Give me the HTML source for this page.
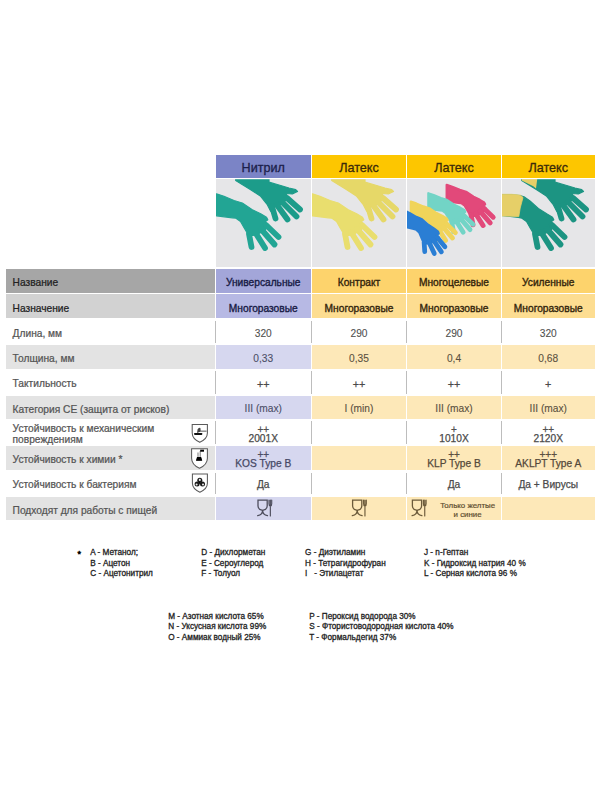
<!DOCTYPE html>
<html><head><meta charset="utf-8"><style>
html,body{margin:0;padding:0;background:#fff;}
body{width:600px;height:800px;position:relative;overflow:hidden;font-family:"Liberation Sans",sans-serif;}
.t{position:absolute;white-space:nowrap;}
.r{position:absolute;}
svg{position:absolute;left:0;top:0;}
</style></head><body>
<div class="r" style="left:216px;top:154.7px;width:94.5px;height:23.5px;background:#7b84c6;"></div>
<div class="t" style="left:216.25px;width:94px;text-align:center;top:161.83px;font-size:12.6px;line-height:12px;color:#1b1e4a;-webkit-text-stroke:0.3px #1b1e4a;">Нитрил</div>
<div class="r" style="left:312px;top:154.7px;width:94px;height:23.5px;background:#fdc600;"></div>
<div class="t" style="left:312.00px;width:94px;text-align:center;top:161.83px;font-size:12.6px;line-height:12px;color:#3b2a0a;-webkit-text-stroke:0.3px #3b2a0a;">Латекс</div>
<div class="r" style="left:407px;top:154.7px;width:94px;height:23.5px;background:#fdc600;"></div>
<div class="t" style="left:407.00px;width:94px;text-align:center;top:161.83px;font-size:12.6px;line-height:12px;color:#3b2a0a;-webkit-text-stroke:0.3px #3b2a0a;">Латекс</div>
<div class="r" style="left:502px;top:154.7px;width:92.5px;height:23.5px;background:#fdc600;"></div>
<div class="t" style="left:501.25px;width:94px;text-align:center;top:161.83px;font-size:12.6px;line-height:12px;color:#3b2a0a;-webkit-text-stroke:0.3px #3b2a0a;">Латекс</div>
<div class="r" style="left:216px;top:179.2px;width:94.5px;height:87.60000000000002px;background:#e6e6e8;"></div>
<div class="r" style="left:312px;top:179.2px;width:94px;height:87.60000000000002px;background:#e6e6e8;"></div>
<div class="r" style="left:407px;top:179.2px;width:94px;height:87.60000000000002px;background:#e6e6e8;"></div>
<div class="r" style="left:502px;top:179.2px;width:92.5px;height:87.60000000000002px;background:#e6e6e8;"></div>
<svg width="600" height="800" viewBox="0 0 600 800" style="position:absolute;left:0;top:0">
<defs>
<clipPath id="c0"><rect x="216" y="179.2" width="94.5" height="87.60000000000002"/></clipPath>
<clipPath id="c1"><rect x="312" y="179.2" width="94" height="87.60000000000002"/></clipPath>
<clipPath id="c2"><rect x="407" y="179.2" width="94" height="87.60000000000002"/></clipPath>
<clipPath id="c3"><rect x="502" y="179.2" width="92.5" height="87.60000000000002"/></clipPath>
<filter id="bl" x="-10%" y="-10%" width="120%" height="120%"><feGaussianBlur stdDeviation="0.45"/></filter>
</defs>
<g clip-path="url(#c0)"><g transform="translate(214,178)" filter="url(#bl)">
<polygon points="21.7,-1 55,-1 55,4.2 66.7,7.5 75,10 81.7,11.7 83.5,13.5 78.3,16 72,15.5 74,20 69,25 64,28 58,29 56.7,33.3 53.3,26.7 46.7,18.3 36.7,11.7 21.7,2.5" fill="#1c9c8a" stroke="#1c9c8a" stroke-width="1.2" stroke-linejoin="round"/><line x1="73" y1="20" x2="86" y2="31.5" stroke="#1c9c8a" stroke-width="5.8" stroke-linecap="round"/><line x1="68" y1="24" x2="82.5" y2="38.5" stroke="#1c9c8a" stroke-width="5.8" stroke-linecap="round"/><line x1="63" y1="27" x2="73.5" y2="41.5" stroke="#1c9c8a" stroke-width="5.8" stroke-linecap="round"/><line x1="58" y1="28.5" x2="61.5" y2="40.5" stroke="#1c9c8a" stroke-width="5.8" stroke-linecap="round"/>
<polygon points="2.5,15.8 10,18.3 20,22.5 28.3,25 38.3,31.7 46.7,35.8 52.5,39.2 53.8,41.7 51,44 55,47.5 50,53 42,57 35,58 30.8,51 26.5,43.5 22,40.2 18.3,39.8 2.5,37.8" fill="#22a594" stroke="#22a594" stroke-width="1.2" stroke-linejoin="round"/><line x1="52" y1="47" x2="64.5" y2="59" stroke="#22a594" stroke-width="5.8" stroke-linecap="round"/><line x1="47" y1="51" x2="60.5" y2="66.5" stroke="#22a594" stroke-width="5.8" stroke-linecap="round"/><line x1="41" y1="54" x2="51" y2="70" stroke="#22a594" stroke-width="5.8" stroke-linecap="round"/><line x1="35" y1="56" x2="37.5" y2="69" stroke="#22a594" stroke-width="5.8" stroke-linecap="round"/>
</g></g>
<g clip-path="url(#c1)"><g transform="translate(310,178)" filter="url(#bl)">
<polygon points="21.7,-1 55,-1 55,4.2 66.7,7.5 75,10 81.7,11.7 83.5,13.5 78.3,16 72,15.5 74,20 69,25 64,28 58,29 56.7,33.3 53.3,26.7 46.7,18.3 36.7,11.7 21.7,2.5" fill="#e6d868" stroke="#e6d868" stroke-width="1.2" stroke-linejoin="round"/><line x1="73" y1="20" x2="86" y2="31.5" stroke="#e6d868" stroke-width="5.8" stroke-linecap="round"/><line x1="68" y1="24" x2="82.5" y2="38.5" stroke="#e6d868" stroke-width="5.8" stroke-linecap="round"/><line x1="63" y1="27" x2="73.5" y2="41.5" stroke="#e6d868" stroke-width="5.8" stroke-linecap="round"/><line x1="58" y1="28.5" x2="61.5" y2="40.5" stroke="#e6d868" stroke-width="5.8" stroke-linecap="round"/>
<polygon points="2.5,15.8 10,18.3 20,22.5 28.3,25 38.3,31.7 46.7,35.8 52.5,39.2 53.8,41.7 51,44 55,47.5 50,53 42,57 35,58 30.8,51 26.5,43.5 22,40.2 18.3,39.8 2.5,37.8" fill="#e9de6e" stroke="#e9de6e" stroke-width="1.2" stroke-linejoin="round"/><line x1="52" y1="47" x2="64.5" y2="59" stroke="#e9de6e" stroke-width="5.8" stroke-linecap="round"/><line x1="47" y1="51" x2="60.5" y2="66.5" stroke="#e9de6e" stroke-width="5.8" stroke-linecap="round"/><line x1="41" y1="54" x2="51" y2="70" stroke="#e9de6e" stroke-width="5.8" stroke-linecap="round"/><line x1="35" y1="56" x2="37.5" y2="69" stroke="#e9de6e" stroke-width="5.8" stroke-linecap="round"/>
</g></g>
<g clip-path="url(#c2)"><g transform="translate(405,178)" filter="url(#bl)">
<g transform="translate(39.8,-5) rotate(0) scale(0.75)">
<polygon points="2.5,15.8 10,18.3 20,22.5 28.3,25 38.3,31.7 46.7,35.8 52.5,39.2 53.8,41.7 51,44 55,47.5 50,53 42,57 35,58 30.8,51 26.5,43.5 22,40.2 18.3,39.8 2.5,37.8" fill="#e2487a" stroke="#e2487a" stroke-width="3.0" stroke-linejoin="round"/><line x1="52" y1="47" x2="64.5" y2="59" stroke="#e2487a" stroke-width="6.6" stroke-linecap="round"/><line x1="47" y1="51" x2="60.5" y2="66.5" stroke="#e2487a" stroke-width="6.6" stroke-linecap="round"/><line x1="41" y1="54" x2="51" y2="70" stroke="#e2487a" stroke-width="6.6" stroke-linecap="round"/><line x1="35" y1="56" x2="37.5" y2="69" stroke="#e2487a" stroke-width="6.6" stroke-linecap="round"/>
</g>
<g transform="translate(21.5,3.8) rotate(0) scale(0.72)">
<polygon points="2.5,15.8 10,18.3 20,22.5 28.3,25 38.3,31.7 46.7,35.8 52.5,39.2 53.8,41.7 51,44 55,47.5 50,53 42,57 35,58 30.8,51 26.5,43.5 22,40.2 18.3,39.8 2.5,37.8" fill="#72d4c6" stroke="#72d4c6" stroke-width="3.0" stroke-linejoin="round"/><line x1="52" y1="47" x2="64.5" y2="59" stroke="#72d4c6" stroke-width="6.6" stroke-linecap="round"/><line x1="47" y1="51" x2="60.5" y2="66.5" stroke="#72d4c6" stroke-width="6.6" stroke-linecap="round"/><line x1="41" y1="54" x2="51" y2="70" stroke="#72d4c6" stroke-width="6.6" stroke-linecap="round"/><line x1="35" y1="56" x2="37.5" y2="69" stroke="#72d4c6" stroke-width="6.6" stroke-linecap="round"/>
</g>
<g transform="translate(4,12.2) rotate(0) scale(0.72)">
<polygon points="2.5,15.8 10,18.3 20,22.5 28.3,25 38.3,31.7 46.7,35.8 52.5,39.2 53.8,41.7 51,44 55,47.5 50,53 42,57 35,58 30.8,51 26.5,43.5 22,40.2 18.3,39.8 2.5,37.8" fill="#f0d45a" stroke="#f0d45a" stroke-width="3.0" stroke-linejoin="round"/><line x1="52" y1="47" x2="64.5" y2="59" stroke="#f0d45a" stroke-width="6.6" stroke-linecap="round"/><line x1="47" y1="51" x2="60.5" y2="66.5" stroke="#f0d45a" stroke-width="6.6" stroke-linecap="round"/><line x1="41" y1="54" x2="51" y2="70" stroke="#f0d45a" stroke-width="6.6" stroke-linecap="round"/><line x1="35" y1="56" x2="37.5" y2="69" stroke="#f0d45a" stroke-width="6.6" stroke-linecap="round"/>
</g>
<g transform="translate(-1,21) rotate(7) scale(0.72)">
<polygon points="2.5,15.8 10,18.3 20,22.5 28.3,25 38.3,31.7 46.7,35.8 52.5,39.2 53.8,41.7 51,44 55,47.5 50,53 42,57 35,58 30.8,51 26.5,43.5 22,40.2 18.3,39.8 2.5,37.8" fill="#2a7ed4" stroke="#2a7ed4" stroke-width="3.0" stroke-linejoin="round"/><line x1="52" y1="47" x2="64.5" y2="59" stroke="#2a7ed4" stroke-width="6.6" stroke-linecap="round"/><line x1="47" y1="51" x2="60.5" y2="66.5" stroke="#2a7ed4" stroke-width="6.6" stroke-linecap="round"/><line x1="41" y1="54" x2="51" y2="70" stroke="#2a7ed4" stroke-width="6.6" stroke-linecap="round"/><line x1="35" y1="56" x2="37.5" y2="69" stroke="#2a7ed4" stroke-width="6.6" stroke-linecap="round"/>
</g>
</g></g>
<g clip-path="url(#c3)"><g transform="translate(500,178)" filter="url(#bl)">
<polygon points="21.7,-1 55,-1 55,4.2 66.7,7.5 75,10 81.7,11.7 83.5,13.5 78.3,16 72,15.5 74,20 69,25 64,28 58,29 56.7,33.3 53.3,26.7 46.7,18.3 36.7,11.7 21.7,2.5" fill="#1c9482" stroke="#1c9482" stroke-width="1.2" stroke-linejoin="round"/><line x1="73" y1="20" x2="86" y2="31.5" stroke="#1c9482" stroke-width="5.8" stroke-linecap="round"/><line x1="68" y1="24" x2="82.5" y2="38.5" stroke="#1c9482" stroke-width="5.8" stroke-linecap="round"/><line x1="63" y1="27" x2="73.5" y2="41.5" stroke="#1c9482" stroke-width="5.8" stroke-linecap="round"/><line x1="58" y1="28.5" x2="61.5" y2="40.5" stroke="#1c9482" stroke-width="5.8" stroke-linecap="round"/>
<polygon points="21.7,-1 37.5,-1 36,10.5 33.3,8.3 21.7,2.5" fill="#e6cf68"/>
<polygon points="1,16.8 12,16.8 20,17.5 24,18.8 30,23 38.3,30.5 46.7,35.8 52.5,39.2 53.8,41.7 51,44 55,47.5 50,53 42,57 35,58 30.8,51 26.5,43.5 22,40.2 18.3,39.3 1,37.5" fill="#1c9482" stroke="#1c9482" stroke-width="1.2" stroke-linejoin="round"/><line x1="52" y1="47" x2="64.5" y2="59" stroke="#1c9482" stroke-width="5.8" stroke-linecap="round"/><line x1="47" y1="51" x2="60.5" y2="66.5" stroke="#1c9482" stroke-width="5.8" stroke-linecap="round"/><line x1="41" y1="54" x2="51" y2="70" stroke="#1c9482" stroke-width="5.8" stroke-linecap="round"/><line x1="35" y1="56" x2="37.5" y2="69" stroke="#1c9482" stroke-width="5.8" stroke-linecap="round"/>
<polygon points="0.5,16.3 12,16.3 20.5,17.2 23,19.5 20.2,30 18.8,38.6 0.5,37.9" fill="#e6cf68" stroke="#e6cf68" stroke-width="0.8" stroke-linejoin="round"/>
</g></g>
</svg>
<div class="r" style="left:6px;top:268.5px;width:208.5px;height:24.5px;background:#a6a6a6;"></div>
<div class="r" style="left:216px;top:268.5px;width:94.5px;height:24.5px;background:#a3a6d9;"></div>
<div class="r" style="left:312px;top:268.5px;width:94px;height:24.5px;background:#fdd36c;"></div>
<div class="r" style="left:407px;top:268.5px;width:94px;height:24.5px;background:#fdd36c;"></div>
<div class="r" style="left:502px;top:268.5px;width:92.5px;height:24.5px;background:#fdd36c;"></div>
<div class="r" style="left:6px;top:294.3px;width:208.5px;height:23.899999999999977px;background:#d2d2d2;"></div>
<div class="r" style="left:216px;top:294.3px;width:94.5px;height:23.899999999999977px;background:#b7b9e4;"></div>
<div class="r" style="left:312px;top:294.3px;width:94px;height:23.899999999999977px;background:#fddd91;"></div>
<div class="r" style="left:407px;top:294.3px;width:94px;height:23.899999999999977px;background:#fddd91;"></div>
<div class="r" style="left:502px;top:294.3px;width:92.5px;height:23.899999999999977px;background:#fddd91;"></div>
<div class="r" style="left:214.7px;top:320.5px;width:1.0px;height:22.399999999999977px;background:#bdbdbd;"></div>
<div class="r" style="left:310.8px;top:320.5px;width:1.0px;height:22.399999999999977px;background:#bdbdbd;"></div>
<div class="r" style="left:405.8px;top:320.5px;width:1.0px;height:22.399999999999977px;background:#bdbdbd;"></div>
<div class="r" style="left:500.9px;top:320.5px;width:1.0px;height:22.399999999999977px;background:#bdbdbd;"></div>
<div class="r" style="left:6px;top:345.2px;width:208.5px;height:23.600000000000023px;background:#e3e3e3;"></div>
<div class="r" style="left:216px;top:345.2px;width:94.5px;height:23.600000000000023px;background:#d6d7ef;"></div>
<div class="r" style="left:312px;top:345.2px;width:94px;height:23.600000000000023px;background:#fde8b8;"></div>
<div class="r" style="left:407px;top:345.2px;width:94px;height:23.600000000000023px;background:#fde8b8;"></div>
<div class="r" style="left:502px;top:345.2px;width:92.5px;height:23.600000000000023px;background:#fde8b8;"></div>
<div class="r" style="left:214.7px;top:371.1px;width:1.0px;height:22.799999999999955px;background:#bdbdbd;"></div>
<div class="r" style="left:310.8px;top:371.1px;width:1.0px;height:22.799999999999955px;background:#bdbdbd;"></div>
<div class="r" style="left:405.8px;top:371.1px;width:1.0px;height:22.799999999999955px;background:#bdbdbd;"></div>
<div class="r" style="left:500.9px;top:371.1px;width:1.0px;height:22.799999999999955px;background:#bdbdbd;"></div>
<div class="r" style="left:6px;top:396.2px;width:208.5px;height:22.600000000000023px;background:#e3e3e3;"></div>
<div class="r" style="left:216px;top:396.2px;width:94.5px;height:22.600000000000023px;background:#d6d7ef;"></div>
<div class="r" style="left:312px;top:396.2px;width:94px;height:22.600000000000023px;background:#fde8b8;"></div>
<div class="r" style="left:407px;top:396.2px;width:94px;height:22.600000000000023px;background:#fde8b8;"></div>
<div class="r" style="left:502px;top:396.2px;width:92.5px;height:22.600000000000023px;background:#fde8b8;"></div>
<div class="r" style="left:214.7px;top:421.1px;width:1.0px;height:22.599999999999966px;background:#bdbdbd;"></div>
<div class="r" style="left:310.8px;top:421.1px;width:1.0px;height:22.599999999999966px;background:#bdbdbd;"></div>
<div class="r" style="left:405.8px;top:421.1px;width:1.0px;height:22.599999999999966px;background:#bdbdbd;"></div>
<div class="r" style="left:500.9px;top:421.1px;width:1.0px;height:22.599999999999966px;background:#bdbdbd;"></div>
<div class="r" style="left:6px;top:446.1px;width:208.5px;height:24.19999999999999px;background:#e3e3e3;"></div>
<div class="r" style="left:216px;top:446.1px;width:94.5px;height:24.19999999999999px;background:#d6d7ef;"></div>
<div class="r" style="left:312px;top:446.1px;width:94px;height:24.19999999999999px;background:#fde8b8;"></div>
<div class="r" style="left:407px;top:446.1px;width:94px;height:24.19999999999999px;background:#fde8b8;"></div>
<div class="r" style="left:502px;top:446.1px;width:92.5px;height:24.19999999999999px;background:#fde8b8;"></div>
<div class="r" style="left:214.7px;top:472.6px;width:1.0px;height:21.799999999999955px;background:#bdbdbd;"></div>
<div class="r" style="left:310.8px;top:472.6px;width:1.0px;height:21.799999999999955px;background:#bdbdbd;"></div>
<div class="r" style="left:405.8px;top:472.6px;width:1.0px;height:21.799999999999955px;background:#bdbdbd;"></div>
<div class="r" style="left:500.9px;top:472.6px;width:1.0px;height:21.799999999999955px;background:#bdbdbd;"></div>
<div class="r" style="left:6px;top:496.7px;width:208.5px;height:23.30000000000001px;background:#e3e3e3;"></div>
<div class="r" style="left:216px;top:496.7px;width:94.5px;height:23.30000000000001px;background:#d6d7ef;"></div>
<div class="r" style="left:312px;top:496.7px;width:94px;height:23.30000000000001px;background:#fde8b8;"></div>
<div class="r" style="left:407px;top:496.7px;width:94px;height:23.30000000000001px;background:#fde8b8;"></div>
<div class="r" style="left:502px;top:496.7px;width:92.5px;height:23.30000000000001px;background:#fde8b8;"></div>
<div class="t" style="left:12.60px;top:276.67px;font-size:10.2px;line-height:12px;color:#222;-webkit-text-stroke:0.24px #222;">Название</div>
<div class="t" style="left:12.60px;top:302.67px;font-size:10.2px;line-height:12px;color:#222;-webkit-text-stroke:0.24px #222;">Назначение</div>
<div class="t" style="left:12.60px;top:327.97px;font-size:10.2px;line-height:12px;color:#555;-webkit-text-stroke:0.24px #555;">Длина, мм</div>
<div class="t" style="left:12.60px;top:352.97px;font-size:10.2px;line-height:12px;color:#555;-webkit-text-stroke:0.24px #555;">Толщина, мм</div>
<div class="t" style="left:12.60px;top:377.97px;font-size:10.2px;line-height:12px;color:#555;-webkit-text-stroke:0.24px #555;">Тактильность</div>
<div class="t" style="left:12.60px;top:403.67px;font-size:10.2px;line-height:12px;color:#555;-webkit-text-stroke:0.24px #555;">Категория CE (защита от рисков)</div>
<div class="t" style="left:12.60px;top:422.97px;font-size:10.2px;line-height:12px;color:#555;-webkit-text-stroke:0.24px #555;">Устойчивость к механическим</div>
<div class="t" style="left:12.60px;top:433.67px;font-size:10.2px;line-height:12px;color:#555;-webkit-text-stroke:0.24px #555;">повреждениям</div>
<div class="t" style="left:12.60px;top:453.67px;font-size:10.2px;line-height:12px;color:#555;-webkit-text-stroke:0.24px #555;">Устойчивость к химии *</div>
<div class="t" style="left:12.60px;top:479.17px;font-size:10.2px;line-height:12px;color:#555;-webkit-text-stroke:0.24px #555;">Устойчивость к бактериям</div>
<div class="t" style="left:12.60px;top:504.67px;font-size:10.2px;line-height:12px;color:#555;-webkit-text-stroke:0.24px #555;">Подходят для работы с пищей</div>
<div class="t" style="left:216.25px;width:94px;text-align:center;top:277.27px;font-size:10.2px;line-height:12px;color:#181b45;-webkit-text-stroke:0.35px #181b45;">Универсальные</div>
<div class="t" style="left:216.25px;width:94px;text-align:center;top:302.67px;font-size:10.2px;line-height:12px;color:#181b45;-webkit-text-stroke:0.35px #181b45;">Многоразовые</div>
<div class="t" style="left:312.00px;width:94px;text-align:center;top:277.27px;font-size:10.2px;line-height:12px;color:#33250c;-webkit-text-stroke:0.35px #33250c;">Контракт</div>
<div class="t" style="left:312.00px;width:94px;text-align:center;top:302.67px;font-size:10.2px;line-height:12px;color:#33250c;-webkit-text-stroke:0.35px #33250c;">Многоразовые</div>
<div class="t" style="left:407.00px;width:94px;text-align:center;top:277.27px;font-size:10.2px;line-height:12px;color:#33250c;-webkit-text-stroke:0.35px #33250c;">Многоцелевые</div>
<div class="t" style="left:407.00px;width:94px;text-align:center;top:302.67px;font-size:10.2px;line-height:12px;color:#33250c;-webkit-text-stroke:0.35px #33250c;">Многоразовые</div>
<div class="t" style="left:501.25px;width:94px;text-align:center;top:277.27px;font-size:10.2px;line-height:12px;color:#33250c;-webkit-text-stroke:0.35px #33250c;">Усиленные</div>
<div class="t" style="left:501.25px;width:94px;text-align:center;top:302.67px;font-size:10.2px;line-height:12px;color:#33250c;-webkit-text-stroke:0.35px #33250c;">Многоразовые</div>
<div class="t" style="left:216.25px;width:94px;text-align:center;top:328.17px;font-size:10.2px;line-height:12px;color:#505050;-webkit-text-stroke:0.1px #505050;">320</div>
<div class="t" style="left:312.00px;width:94px;text-align:center;top:328.17px;font-size:10.2px;line-height:12px;color:#505050;-webkit-text-stroke:0.1px #505050;">290</div>
<div class="t" style="left:407.00px;width:94px;text-align:center;top:328.17px;font-size:10.2px;line-height:12px;color:#505050;-webkit-text-stroke:0.1px #505050;">290</div>
<div class="t" style="left:501.25px;width:94px;text-align:center;top:328.17px;font-size:10.2px;line-height:12px;color:#505050;-webkit-text-stroke:0.1px #505050;">320</div>
<div class="t" style="left:216.25px;width:94px;text-align:center;top:353.47px;font-size:10.2px;line-height:12px;color:#4c4e66;-webkit-text-stroke:0.1px #4c4e66;">0,33</div>
<div class="t" style="left:312.00px;width:94px;text-align:center;top:353.47px;font-size:10.2px;line-height:12px;color:#5a5040;-webkit-text-stroke:0.1px #5a5040;">0,35</div>
<div class="t" style="left:407.00px;width:94px;text-align:center;top:353.47px;font-size:10.2px;line-height:12px;color:#5a5040;-webkit-text-stroke:0.1px #5a5040;">0,4</div>
<div class="t" style="left:501.25px;width:94px;text-align:center;top:353.47px;font-size:10.2px;line-height:12px;color:#5a5040;-webkit-text-stroke:0.1px #5a5040;">0,68</div>
<div class="t" style="left:216.25px;width:94px;text-align:center;top:377.66px;font-size:10.8px;line-height:12px;color:#4a4a4a;-webkit-text-stroke:0.25px #4a4a4a;">++</div>
<div class="t" style="left:312.00px;width:94px;text-align:center;top:377.66px;font-size:10.8px;line-height:12px;color:#4a4a4a;-webkit-text-stroke:0.25px #4a4a4a;">++</div>
<div class="t" style="left:407.00px;width:94px;text-align:center;top:377.66px;font-size:10.8px;line-height:12px;color:#4a4a4a;-webkit-text-stroke:0.25px #4a4a4a;">++</div>
<div class="t" style="left:501.25px;width:94px;text-align:center;top:377.66px;font-size:10.8px;line-height:12px;color:#4a4a4a;-webkit-text-stroke:0.25px #4a4a4a;">+</div>
<div class="t" style="left:216.25px;width:94px;text-align:center;top:403.17px;font-size:10.2px;line-height:12px;color:#4c4e66;-webkit-text-stroke:0.1px #4c4e66;">III (max)</div>
<div class="t" style="left:312.00px;width:94px;text-align:center;top:403.17px;font-size:10.2px;line-height:12px;color:#5a5040;-webkit-text-stroke:0.1px #5a5040;">I (min)</div>
<div class="t" style="left:407.00px;width:94px;text-align:center;top:403.17px;font-size:10.2px;line-height:12px;color:#5a5040;-webkit-text-stroke:0.1px #5a5040;">III (max)</div>
<div class="t" style="left:501.25px;width:94px;text-align:center;top:403.17px;font-size:10.2px;line-height:12px;color:#5a5040;-webkit-text-stroke:0.1px #5a5040;">III (max)</div>
<div class="t" style="left:216.25px;width:94px;text-align:center;top:424.24px;font-size:10px;line-height:12px;color:#505050;-webkit-text-stroke:0.25px #505050;">++</div>
<div class="t" style="left:312.00px;width:94px;text-align:center;top:424.24px;font-size:10px;line-height:12px;color:#505050;-webkit-text-stroke:0.25px #505050;"></div>
<div class="t" style="left:407.00px;width:94px;text-align:center;top:424.24px;font-size:10px;line-height:12px;color:#505050;-webkit-text-stroke:0.25px #505050;">+</div>
<div class="t" style="left:501.25px;width:94px;text-align:center;top:424.24px;font-size:10px;line-height:12px;color:#505050;-webkit-text-stroke:0.25px #505050;">++</div>
<div class="t" style="left:216.25px;width:94px;text-align:center;top:432.77px;font-size:10.2px;line-height:12px;color:#4a4a4a;-webkit-text-stroke:0.25px #4a4a4a;">2001X</div>
<div class="t" style="left:312.00px;width:94px;text-align:center;top:432.77px;font-size:10.2px;line-height:12px;color:#4a4a4a;-webkit-text-stroke:0.25px #4a4a4a;"></div>
<div class="t" style="left:407.00px;width:94px;text-align:center;top:432.77px;font-size:10.2px;line-height:12px;color:#4a4a4a;-webkit-text-stroke:0.25px #4a4a4a;">1010X</div>
<div class="t" style="left:501.25px;width:94px;text-align:center;top:432.77px;font-size:10.2px;line-height:12px;color:#4a4a4a;-webkit-text-stroke:0.25px #4a4a4a;">2120X</div>
<div class="t" style="left:216.25px;width:94px;text-align:center;top:448.74px;font-size:10px;line-height:12px;color:#4c4e66;-webkit-text-stroke:0.25px #4c4e66;">++</div>
<div class="t" style="left:312.00px;width:94px;text-align:center;top:448.74px;font-size:10px;line-height:12px;color:#5a5040;-webkit-text-stroke:0.25px #5a5040;"></div>
<div class="t" style="left:407.00px;width:94px;text-align:center;top:448.74px;font-size:10px;line-height:12px;color:#5a5040;-webkit-text-stroke:0.25px #5a5040;">++</div>
<div class="t" style="left:501.25px;width:94px;text-align:center;top:448.74px;font-size:10px;line-height:12px;color:#5a5040;-webkit-text-stroke:0.25px #5a5040;">+++</div>
<div class="t" style="left:216.25px;width:94px;text-align:center;top:458.47px;font-size:10.2px;line-height:12px;color:#474966;-webkit-text-stroke:0.25px #474966;">KOS Type B</div>
<div class="t" style="left:312.00px;width:94px;text-align:center;top:458.47px;font-size:10.2px;line-height:12px;color:#55493a;-webkit-text-stroke:0.25px #55493a;"></div>
<div class="t" style="left:407.00px;width:94px;text-align:center;top:458.47px;font-size:10.2px;line-height:12px;color:#55493a;-webkit-text-stroke:0.25px #55493a;">KLP Type B</div>
<div class="t" style="left:501.25px;width:94px;text-align:center;top:458.47px;font-size:10.2px;line-height:12px;color:#55493a;-webkit-text-stroke:0.25px #55493a;">AKLPT Type A</div>
<div class="t" style="left:216.25px;width:94px;text-align:center;top:478.67px;font-size:10.2px;line-height:12px;color:#4a4a4a;-webkit-text-stroke:0.25px #4a4a4a;">Да</div>
<div class="t" style="left:312.00px;width:94px;text-align:center;top:478.67px;font-size:10.2px;line-height:12px;color:#4a4a4a;-webkit-text-stroke:0.25px #4a4a4a;"></div>
<div class="t" style="left:407.00px;width:94px;text-align:center;top:478.67px;font-size:10.2px;line-height:12px;color:#4a4a4a;-webkit-text-stroke:0.25px #4a4a4a;">Да</div>
<div class="t" style="left:501.25px;width:94px;text-align:center;top:478.67px;font-size:10.2px;line-height:12px;color:#4a4a4a;-webkit-text-stroke:0.25px #4a4a4a;">Да + Вирусы</div>
<svg width="600" height="800" viewBox="0 0 600 800" style="position:absolute;left:0;top:0">
<path d="M192.2,424.4 H207.4 V433.0 Q207.4,438.8 199.8,442.3 Q192.2,438.8 192.2,433.0 Z" fill="#fff" stroke="#5a5a5a" stroke-width="1.05"/>
<rect x="194.0" y="432.9" width="8.4" height="2.0" rx="0.8" fill="#111"/>
<path d="M197.0,433 L197.6,429.6 Q198.6,427.2 200.4,428.0 L200.8,431.4 Z" fill="#444"/>
<rect x="200.4" y="430.6" width="6.2" height="1.1" fill="#666"/>
<path d="M191.6,448.7 H207.4 V458.2 Q207.4,464.7 199.5,468.2 Q191.6,464.7 191.6,458.2 Z" fill="#fff" stroke="#5a5a5a" stroke-width="1.05"/>
<path d="M198.0,452.5 V456.8 L196.6,460.3 H201.6 L200.2,456.8 V451" fill="none" stroke="#444" stroke-width="0.7"/>
<path d="M197.0,457.0 H201.2 L202.2,460.8 H196.0 Z" fill="#000"/>
<rect x="200.2" y="449.7" width="3.8" height="2.0" fill="#000"/>
<path d="M192.4,473.9 H207.4 V483.2 Q207.4,488.7 199.9,492.2 Q192.4,488.7 192.4,483.2 Z" fill="#fff" stroke="#5a5a5a" stroke-width="1.05"/>
<circle cx="199.8" cy="480.3" r="2.5" fill="#1a1a1a"/>
<circle cx="197.1" cy="484.1" r="2.5" fill="#1a1a1a"/>
<circle cx="202.5" cy="484.1" r="2.5" fill="#1a1a1a"/>
<circle cx="199.8" cy="479.9" r="1.05" fill="#e8e8e8"/>
<circle cx="196.6" cy="484.5" r="1.05" fill="#e8e8e8"/>
<circle cx="203.0" cy="484.5" r="1.05" fill="#e8e8e8"/>
<circle cx="199.8" cy="482.9" r="0.9" fill="#000"/>
</svg>
<svg width="600" height="800" viewBox="0 0 600 800" style="position:absolute;left:0;top:0">
<g transform="translate(257.4,499.4)" fill="none" stroke="#4d4d5c" stroke-width="1.3" stroke-linecap="round"><path d="M0.6,0.7 H9.8 V6.6 Q9.8,10.2 5.2,10.9 Q0.6,10.2 0.6,6.6 Z"/><path d="M5.2,10.9 C5.2,14.5 3.2,15.8 0.3,16.3 M5.2,10.9 C5.2,14.5 7.2,15.8 10.1,16.3"/><path d="M11.6,0.7 V4.4 Q11.6,6.6 12.95,6.9 Q14.3,6.6 14.3,4.4 V0.7 M12.95,0.7 V16.5" stroke-width="1.15"/></g>
<g transform="translate(352.0,499.4)" fill="none" stroke="#6b5a3a" stroke-width="1.3" stroke-linecap="round"><path d="M0.6,0.7 H9.8 V6.6 Q9.8,10.2 5.2,10.9 Q0.6,10.2 0.6,6.6 Z"/><path d="M5.2,10.9 C5.2,14.5 3.2,15.8 0.3,16.3 M5.2,10.9 C5.2,14.5 7.2,15.8 10.1,16.3"/><path d="M11.6,0.7 V4.4 Q11.6,6.6 12.95,6.9 Q14.3,6.6 14.3,4.4 V0.7 M12.95,0.7 V16.5" stroke-width="1.15"/></g>
<g transform="translate(411.8,499.4)" fill="none" stroke="#6b5a3a" stroke-width="1.3" stroke-linecap="round"><path d="M0.6,0.7 H9.8 V6.6 Q9.8,10.2 5.2,10.9 Q0.6,10.2 0.6,6.6 Z"/><path d="M5.2,10.9 C5.2,14.5 3.2,15.8 0.3,16.3 M5.2,10.9 C5.2,14.5 7.2,15.8 10.1,16.3"/><path d="M11.6,0.7 V4.4 Q11.6,6.6 12.95,6.9 Q14.3,6.6 14.3,4.4 V0.7 M12.95,0.7 V16.5" stroke-width="1.15"/></g>
</svg>
<div class="t" style="left:427.60px;width:80px;text-align:center;top:500.46px;font-size:7.9px;line-height:12px;color:#5e4e30;-webkit-text-stroke:0.2px #5e4e30;">Только желтые</div>
<div class="t" style="left:427.60px;width:80px;text-align:center;top:509.26px;font-size:7.9px;line-height:12px;color:#5e4e30;-webkit-text-stroke:0.2px #5e4e30;">и синие</div>
<div class="t" style="left:77.40px;top:548.08px;font-size:9px;line-height:12px;color:#000;-webkit-text-stroke:0.5px #000;">*</div>
<div class="t" style="left:90.30px;top:547.36px;font-size:8.2px;line-height:12px;color:#1e1e1e;-webkit-text-stroke:0.3px #1e1e1e;">A - Метанол;</div>
<div class="t" style="left:90.30px;top:557.56px;font-size:8.2px;line-height:12px;color:#1e1e1e;-webkit-text-stroke:0.3px #1e1e1e;">B - Ацетон</div>
<div class="t" style="left:90.30px;top:567.76px;font-size:8.2px;line-height:12px;color:#1e1e1e;-webkit-text-stroke:0.3px #1e1e1e;">C - Ацетонитрил</div>
<div class="t" style="left:201.20px;top:547.36px;font-size:8.2px;line-height:12px;color:#1e1e1e;-webkit-text-stroke:0.3px #1e1e1e;">D - Дихлорметан</div>
<div class="t" style="left:201.20px;top:557.56px;font-size:8.2px;line-height:12px;color:#1e1e1e;-webkit-text-stroke:0.3px #1e1e1e;">E - Сероуглерод</div>
<div class="t" style="left:201.20px;top:567.76px;font-size:8.2px;line-height:12px;color:#1e1e1e;-webkit-text-stroke:0.3px #1e1e1e;">F - Толуол</div>
<div class="t" style="left:305.10px;top:547.36px;font-size:8.2px;line-height:12px;color:#1e1e1e;-webkit-text-stroke:0.3px #1e1e1e;">G - Диэтиламин</div>
<div class="t" style="left:305.10px;top:557.56px;font-size:8.2px;line-height:12px;color:#1e1e1e;-webkit-text-stroke:0.3px #1e1e1e;">H - Тетрагидрофуран</div>
<div class="t" style="left:305.10px;top:567.76px;font-size:8.2px;line-height:12px;color:#1e1e1e;-webkit-text-stroke:0.3px #1e1e1e;">I&nbsp;&nbsp; - Этилацетат</div>
<div class="t" style="left:424.00px;top:547.36px;font-size:8.2px;line-height:12px;color:#1e1e1e;-webkit-text-stroke:0.3px #1e1e1e;">J - n-Гептан</div>
<div class="t" style="left:424.00px;top:557.56px;font-size:8.2px;line-height:12px;color:#1e1e1e;-webkit-text-stroke:0.3px #1e1e1e;">K - Гидроксид натрия 40 %</div>
<div class="t" style="left:424.00px;top:567.76px;font-size:8.2px;line-height:12px;color:#1e1e1e;-webkit-text-stroke:0.3px #1e1e1e;">L - Серная кислота 96 %</div>
<div class="t" style="left:168.20px;top:611.36px;font-size:8.2px;line-height:12px;color:#1e1e1e;-webkit-text-stroke:0.3px #1e1e1e;">M - Азотная кислота 65%</div>
<div class="t" style="left:168.20px;top:621.46px;font-size:8.2px;line-height:12px;color:#1e1e1e;-webkit-text-stroke:0.3px #1e1e1e;">N - Уксусная кислота 99%</div>
<div class="t" style="left:168.20px;top:631.56px;font-size:8.2px;line-height:12px;color:#1e1e1e;-webkit-text-stroke:0.3px #1e1e1e;">O - Аммиак водный 25%</div>
<div class="t" style="left:309.20px;top:611.36px;font-size:8.2px;line-height:12px;color:#1e1e1e;-webkit-text-stroke:0.3px #1e1e1e;">P - Пероксид водорода 30%</div>
<div class="t" style="left:309.20px;top:621.46px;font-size:8.2px;line-height:12px;color:#1e1e1e;-webkit-text-stroke:0.3px #1e1e1e;">S - Фтористоводородная кислота 40%</div>
<div class="t" style="left:309.20px;top:631.56px;font-size:8.2px;line-height:12px;color:#1e1e1e;-webkit-text-stroke:0.3px #1e1e1e;">T - Формальдегид 37%</div>
</body></html>
